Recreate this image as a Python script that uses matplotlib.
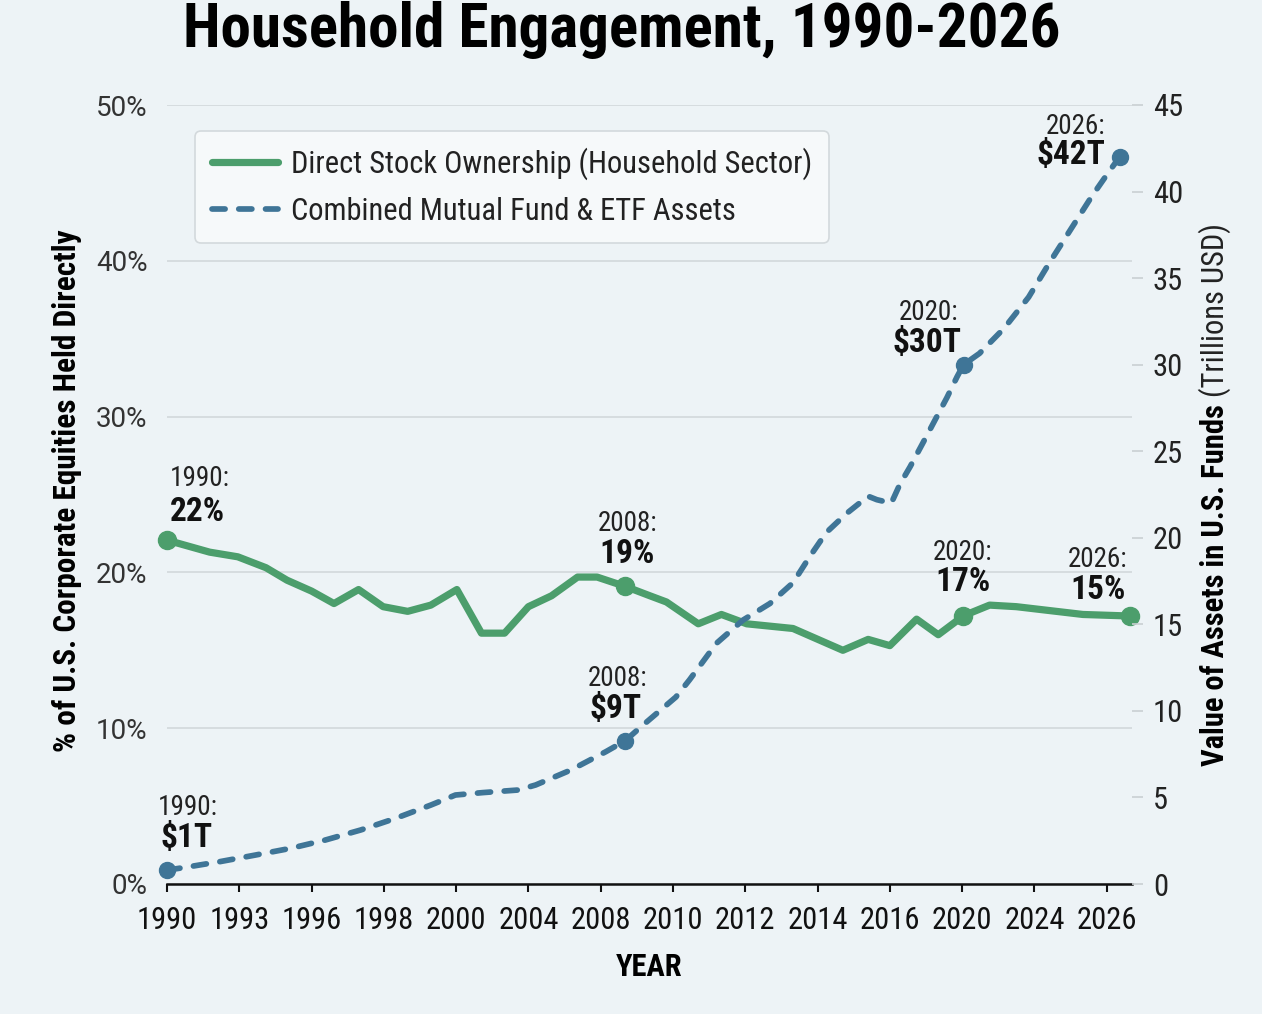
import matplotlib
matplotlib.use('Agg')
import matplotlib.pyplot as plt

# x axis is evenly spaced even though the years are not
year_labels = ['1990', '1993', '1996', '1998', '2000', '2004', '2008', '2010',
               '2012', '2014', '2016', '2020', '2024', '2026']

# direct stock ownership, % of corporate equities (left axis)
direct_pos = [0.0, 0.13, 0.59, 0.98, 1.37, 1.66, 2.00, 2.31, 2.65, 2.99, 3.33, 3.65,
              4.01, 4.35, 4.67, 5.00, 5.32, 5.68, 5.95, 6.34, 6.68, 6.91, 7.35, 7.67,
              8.02, 8.66, 9.35, 9.70, 10.0, 10.37, 10.67, 10.90, 11.01, 11.38, 11.75,
              12.67, 13.32]
direct_pct = [22.1, 21.9, 21.3, 21.0, 20.3, 19.5, 18.8, 18.0, 18.9, 17.8, 17.5, 17.9,
              18.9, 16.1, 16.1, 17.8, 18.5, 19.7, 19.7, 19.1, 18.5, 18.1, 16.7, 17.3,
              16.7, 16.4, 15.0, 15.7, 15.3, 17.0, 16.0, 16.8, 17.2, 17.9, 17.8,
              17.3, 17.2]

# combined mutual fund & ETF assets, trillions USD (right axis)
fund_pos = [0.0, 0.25, 0.73, 1.22, 1.71, 2.19, 2.68, 3.16, 3.65, 3.99, 4.37, 4.86,
            5.10, 5.59, 6.07, 6.34, 6.56, 7.04, 7.23, 7.60, 7.97, 8.34, 8.66, 8.89,
            9.12, 9.40, 9.70, 9.82, 10.02, 10.14, 10.28, 10.46, 10.65, 10.79, 10.93,
            11.02, 11.24, 11.58, 11.92, 12.21, 12.50, 12.79, 13.04, 13.18]
fund_tn = [0.8, 0.96, 1.29, 1.67, 2.06, 2.54, 3.12, 3.79, 4.56, 5.14, 5.28, 5.43,
           5.72, 6.59, 7.64, 8.28, 9.09, 10.8, 11.8, 13.9, 15.25, 16.2, 17.4, 18.9,
           20.3, 21.4, 22.4, 22.2, 22.0, 23.1, 24.1, 25.5, 27.0, 28.1, 29.3,
           30.0, 30.65, 32.1, 33.9, 35.9, 37.8, 39.7, 41.2, 42.0]

# highlighted points: index into series, year text, value text
direct_notes = [(0, '1990:', '22%'), (19, '2008:', '19%'), (32, '2020:', '17%'), (36, '2026:', '15%')]
fund_notes = [(0, '1990:', '$1T'), (15, '2008:', '$9T'), (35, '2020:', '$30T'), (43, '2026:', '$42T')]

# label placement (pixels from the marker): small dx, dy, bold dx, dy, ha
direct_place = [(3, 61, 3, 28, 'left'), (2, 63, 2, 32, 'center'),
                (0, 64, 0, 34, 'center'), (-32, 57, -32, 26, 'center')]
fund_place = [(-9, 63, -7, 32, 'left'), (-8, 62, -10, 32, 'center'),
              (-35, 52, -37, 22, 'center'), (-44, 30, -49, 2, 'center')]

GREEN = '#4c9e6c'
BLUE = '#3f7597'
BG = '#edf3f6'
NARROW = ['Roboto Condensed', 'Liberation Sans Narrow', 'Roboto', 'DejaVu Sans']
plt.rcParams['font.family'] = NARROW

fig = plt.figure(figsize=(12.62, 10.14), dpi=100, facecolor=BG)
ax = fig.add_axes([167 / 1262, 1 - 884 / 1014, (1132 - 167) / 1262, (884 - 105) / 1014])
ax2 = ax.twinx()
ax.patch.set_visible(False)
ax2.patch.set_visible(False)

green_line, = ax.plot(direct_pos, direct_pct, color=GREEN, lw=5.2, solid_capstyle='round',
                      solid_joinstyle='round', label='Direct Stock Ownership (Household Sector)', zorder=3)
blue_line, = ax2.plot(fund_pos, fund_tn, color=BLUE, lw=4.1, ls=(0, (2.3, 2.4)),
                      dash_capstyle='round', label='Combined Mutual Fund & ETF Assets', zorder=3)

for (i, yr, val), (sx, sy, bx, by, ha) in zip(direct_notes, direct_place):
    ax.plot(direct_pos[i], direct_pct[i], 'o', color=GREEN, ms=13, clip_on=False, zorder=4)
    ax.annotate(yr, (direct_pos[i], direct_pct[i]), xytext=(sx, sy), textcoords='offset pixels',
                ha=ha, va='center', fontsize=19.5, color='#222222')
    ax.annotate(val, (direct_pos[i], direct_pct[i]), xytext=(bx, by), textcoords='offset pixels',
                ha=ha, va='center', fontsize=24, fontweight='bold', color='#111111')

for (i, yr, val), (sx, sy, bx, by, ha) in zip(fund_notes, fund_place):
    ax2.plot(fund_pos[i], fund_tn[i], 'o', color=BLUE, ms=11.5, clip_on=False, zorder=4)
    ax2.annotate(yr, (fund_pos[i], fund_tn[i]), xytext=(sx, sy), textcoords='offset pixels',
                 ha=ha, va='center', fontsize=19.5, color='#222222')
    ax2.annotate(val, (fund_pos[i], fund_tn[i]), xytext=(bx, by), textcoords='offset pixels',
                 ha=ha, va='center', fontsize=24, fontweight='bold', color='#111111')

ax.set_xlim(0, 13.35)
ax.set_ylim(0, 50)
ax2.set_ylim(0, 45)

ax.set_xticks(range(len(year_labels)))
ax.set_xticklabels(year_labels)
ax.set_yticks([0, 10, 20, 30, 40, 50])
ax.set_yticklabels(['0%', '10%', '20%', '30%', '40%', '50%'], family=['Roboto', 'DejaVu Sans'])
ax2.set_yticks(range(0, 46, 5))

ax.grid(axis='y', color='#d2d8db', lw=1.2)
for s in ['top', 'left', 'right']:
    ax.spines[s].set_visible(False)
for s in ['top', 'left', 'right', 'bottom']:
    ax2.spines[s].set_visible(False)
ax.spines['bottom'].set_linewidth(1.8)
ax.spines['bottom'].set_color('#111111')

ax.tick_params(axis='x', length=6, width=1.5, pad=10, labelsize=22, colors='#111111')
ax.tick_params(axis='y', length=0, pad=14, labelsize=20, labelcolor='#333333')
ax2.tick_params(axis='y', length=8, width=1.2, color='#c9cfd2', pad=7, labelsize=22, labelcolor='#222222')

ax.set_xlabel('YEAR', fontsize=22, fontweight='bold', labelpad=12)

fig.text(67 / 1262, 1 - 491 / 1014, '% of U.S. Corporate Equities Held Directly', rotation=90,
         ha='center', va='center', fontsize=22.5, fontweight='bold')
bold_part = fig.text(1215 / 1262, 1 - 766 / 1014, 'Value of Assets in U.S. Funds', rotation=90,
                     ha='center', va='bottom', fontsize=22, fontweight='bold')
ax.annotate(' (Trillions USD)', xy=(0.5, 1.0), xycoords=bold_part, rotation=90,
            ha='center', va='bottom', fontsize=22, color='#222222')

fig.text(622 / 1262, 1 - 30 / 1014, 'Household Engagement, 1990-2026', ha='center', va='center',
         fontsize=44, fontweight='bold')

leg = ax2.legend(handles=[green_line, blue_line], loc='upper left',
                 bbox_to_anchor=(195 / 1262, 1 - 131 / 1014), bbox_transform=fig.transFigure,
                 fontsize=22, frameon=True, fancybox=True, handlelength=2.15, borderpad=0.55,
                 labelspacing=0.55, handletextpad=0.45, borderaxespad=0, labelcolor='#222222')
leg.get_frame().set_facecolor('#f6f9fa')
leg.get_frame().set_edgecolor('#d3d9dc')
leg.get_frame().set_linewidth(1.2)
leg.get_frame().set_alpha(1)

fig.savefig('out.png', dpi=100, facecolor=BG)
